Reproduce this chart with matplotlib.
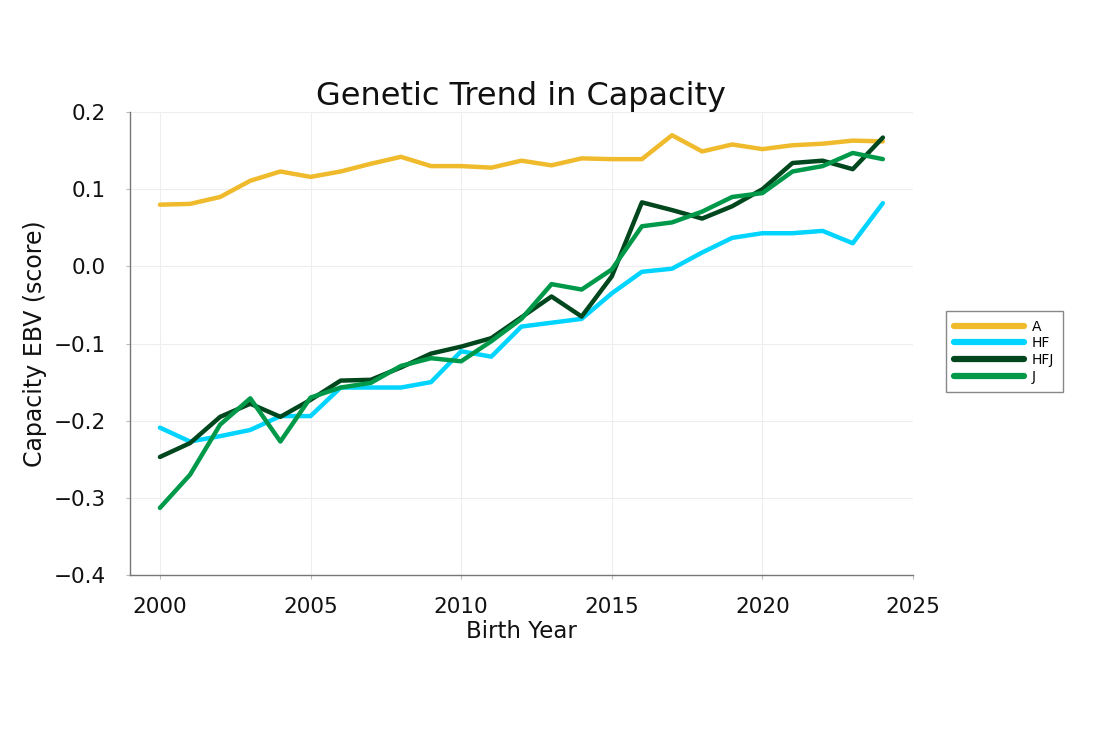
import numpy as np
import matplotlib.pyplot as plt

plt.rcParams['font.family'] = ['DejaVu Sans']

# ---- Data ----
years = list(range(2000, 2025))

A = [0.080, 0.081, 0.090, 0.111, 0.123, 0.116, 0.123, 0.133, 0.142, 0.130,
     0.130, 0.128, 0.137, 0.131, 0.140, 0.139, 0.139, 0.170, 0.149, 0.158,
     0.152, 0.157, 0.159, 0.163, 0.162]
HF = [-0.209, -0.227, -0.220, -0.212, -0.194, -0.194, -0.157, -0.157, -0.157, -0.150,
      -0.110, -0.117, -0.078, -0.073, -0.068, -0.035, -0.007, -0.003, 0.018, 0.037,
      0.043, 0.043, 0.046, 0.030, 0.082]
HFJ = [-0.247, -0.229, -0.195, -0.178, -0.195, -0.173, -0.148, -0.147, -0.131, -0.113,
       -0.104, -0.093, -0.066, -0.039, -0.065, -0.013, 0.083, 0.073, 0.062, 0.078,
       0.100, 0.134, 0.137, 0.126, 0.167]
J = [-0.313, -0.270, -0.205, -0.171, -0.227, -0.170, -0.157, -0.151, -0.129, -0.119,
     -0.123, -0.097, -0.068, -0.023, -0.030, -0.004, 0.052, 0.057, 0.071, 0.090,
     0.095, 0.123, 0.130, 0.147, 0.139]

series = {"A": A, "HF": HF, "HFJ": HFJ, "J": J}
colors = {"A": "#EFBA2C", "HF": "#00D4FF", "HFJ": "#00471E", "J": "#00994A"}

# ---- Plot ----
fig = plt.figure(figsize=(11, 7.34), dpi=100)
ax = fig.add_axes([0.118, 0.2166, 0.712, 0.6307])

for name, vals in series.items():
    ax.plot(years, vals, color=colors[name], linewidth=3.2, label=name,
            solid_capstyle='round', solid_joinstyle='round')

ax.set_xlim(1999, 2025)
ax.set_ylim(-0.4, 0.2)
ax.set_xticks(np.arange(2000, 2026, 5))
ax.set_yticks(np.arange(-0.4, 0.21, 0.1))
ax.set_yticklabels(["\u22120.4", "\u22120.3", "\u22120.2", "\u22120.1", "0.0", "0.1", "0.2"])
ax.grid(True, color="#EEEEEE", linewidth=0.8)
ax.set_axisbelow(True)

for s in ["top", "right"]:
    ax.spines[s].set_visible(False)
for s in ["left", "bottom"]:
    ax.spines[s].set_color("#777777")
    ax.spines[s].set_linewidth(1.0)

ax.tick_params(axis="both", labelsize=15.5, colors="#BBBBBB", labelcolor="#111111",
               length=3, width=0.8)
ax.tick_params(axis="y", pad=14)
ax.tick_params(axis="x", pad=13)

ax.set_title("Genetic Trend in Capacity", fontsize=23, pad=1, color="#111111")
ax.set_xlabel("Birth Year", fontsize=16.5, labelpad=2, color="#111111")
ax.set_ylabel("Capacity EBV (score)", fontsize=17, labelpad=5, color="#111111")

leg = fig.legend(loc="upper left", bbox_to_anchor=(0.860, 0.576), borderaxespad=0,
                 fontsize=10, handlelength=5.0, handletextpad=0.6, labelspacing=0.2,
                 fancybox=False, edgecolor="#888888", framealpha=1,
                 borderpad=0.6)
for line in leg.get_lines():
    line.set_linewidth(4.5)
    line.set_solid_capstyle('round')

plt.savefig("out.png", dpi=100)
